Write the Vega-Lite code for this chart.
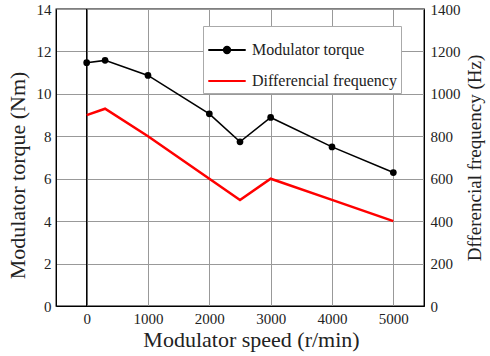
{
  "$schema": "https://vega.github.io/schema/vega-lite/v6.json",
  "width": 368,
  "height": 297,
  "autosize": {"type": "none"},
  "padding": {"left": 56, "top": 9, "right": 66, "bottom": 50},
  "config": {
    "font": "'Liberation Serif', 'DejaVu Serif', serif",
    "view": {"stroke": "black", "strokeWidth": 1.3},
    "axis": {
      "labelFont": "'Liberation Serif', 'DejaVu Serif', serif",
      "titleFont": "'Liberation Serif', 'DejaVu Serif', serif",
      "labelFontSize": 15,
      "titleFontSize": 22,
      "titleFontWeight": "normal",
      "labelColor": "#222",
      "titleColor": "#222",
      "ticks": false,
      "domainColor": "black",
      "gridColor": "#999",
      "gridWidth": 1,
      "format": "d"
    },
    "legend": {"labelFont": "'Liberation Serif', 'DejaVu Serif', serif"}
  },
  "data": {
    "values": [
      {"speed": 0, "torque": 11.47, "freq": 900},
      {"speed": 300, "torque": 11.58, "freq": 930},
      {"speed": 1000, "torque": 10.87, "freq": 800},
      {"speed": 2000, "torque": 9.06, "freq": 600},
      {"speed": 2500, "torque": 7.74, "freq": 500},
      {"speed": 3000, "torque": 8.89, "freq": 600},
      {"speed": 4000, "torque": 7.5, "freq": 500},
      {"speed": 5000, "torque": 6.29, "freq": 400}
    ]
  },
  "encoding": {
    "x": {
      "field": "speed",
      "type": "quantitative",
      "scale": {"domain": [-500, 5500], "nice": false},
      "axis": {
        "title": "Modulator speed (r/min)",
        "values": [0, 1000, 2000, 3000, 4000, 5000],
        "format": "d",
        "labelPadding": 5,
        "titlePadding": 3,
        "titleX": 195
      }
    }
  },
  "layer": [
    {
      "mark": {"type": "rule", "color": "black", "strokeWidth": 1.3},
      "data": {"values": [{"speed": 0}]},
      "encoding": {"x": {"field": "speed", "type": "quantitative"}}
    },
    {
      "mark": {"type": "line", "strokeWidth": 1.6, "point": {"filled": true, "size": 45}},
      "transform": [{"calculate": "'Modulator torque'", "as": "series"}],
      "encoding": {
        "y": {
          "field": "torque",
          "type": "quantitative",
          "scale": {"domain": [0, 14], "nice": false},
          "axis": {
            "title": "Modulator torque (Nm)",
            "values": [0, 2, 4, 6, 8, 10, 12, 14],
            "format": "d",
            "labelPadding": 5,
            "titlePadding": 7,
            "titleY": 166
          }
        },
        "color": {
          "field": "series",
          "type": "nominal",
          "scale": {"domain": ["Modulator torque", "Differencial frequency"], "range": ["black", "#ff0000"]},
          "legend": {
            "title": null,
            "orient": "none",
            "legendX": 147,
            "legendY": 17,
            "symbolType": "stroke",
            "symbolSize": 1400,
            "symbolStrokeWidth": 2,
            "labelFontSize": 16,
            "labelColor": "#222",
            "labelOffset": 5,
            "rowPadding": 3,
            "strokeColor": "#aaa",
            "fillColor": "white",
            "padding": 4,
            "encode": {
              "symbols": {
                "update": {
                  "shape": {"signal": "datum.value == 'Modulator torque' ? 'M-1,0H1M0.17,0A0.17,0.17,0,1,1,-0.17,0A0.17,0.17,0,1,1,0.17,0Z' : 'stroke'"},
                  "fill": {"signal": "datum.value == 'Modulator torque' ? 'black' : 'transparent'"}
                }
              }
            }
          }
        }
      }
    },
    {
      "mark": {"type": "line", "strokeWidth": 2.5},
      "transform": [{"calculate": "'Differencial frequency'", "as": "series"}],
      "encoding": {
        "y": {
          "field": "freq",
          "type": "quantitative",
          "scale": {"domain": [0, 1400], "nice": false},
          "axis": {
            "orient": "right",
            "title": "Dfferencial frequency (Hz)",
            "values": [0, 200, 400, 600, 800, 1000, 1200, 1400],
            "format": "d",
            "grid": false,
            "labelPadding": 6,
            "titleAngle": 270,
            "titleFontSize": 19,
            "titlePadding": 24
          }
        },
        "color": {"field": "series", "type": "nominal"}
      }
    }
  ],
  "resolve": {"scale": {"y": "independent"}}
}
